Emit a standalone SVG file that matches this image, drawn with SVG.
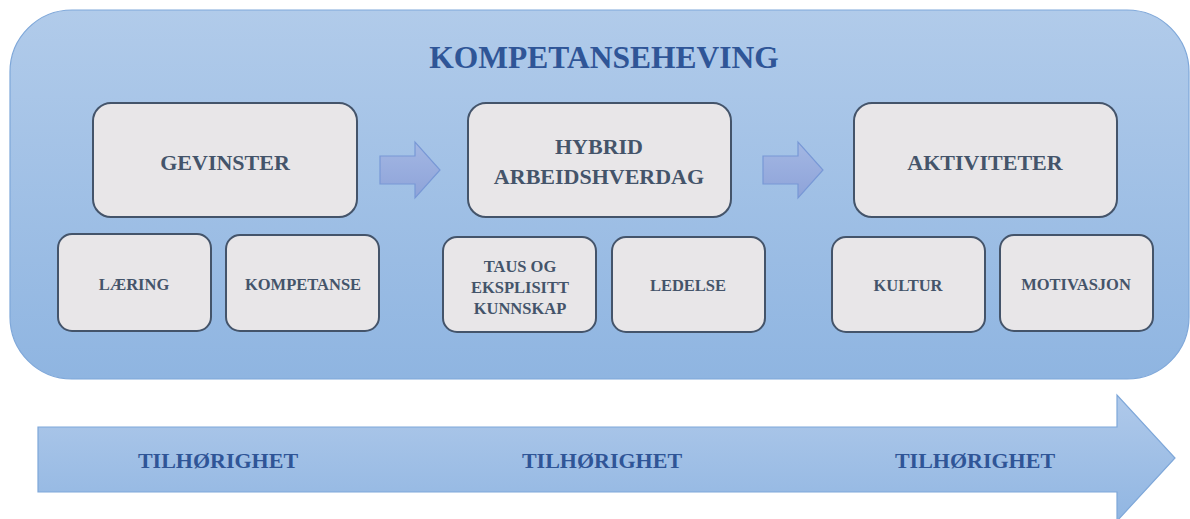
<svg xmlns="http://www.w3.org/2000/svg" width="1190" height="519" viewBox="0 0 1190 519">
  <defs>
    <linearGradient id="panelFill" x1="0" y1="0" x2="0" y2="1">
      <stop offset="0" stop-color="#b1cbea"/>
      <stop offset="1" stop-color="#8fb5e1"/>
    </linearGradient>
    <linearGradient id="bandFill" x1="0" y1="0" x2="0" y2="1">
      <stop offset="0" stop-color="#afc9ea"/>
      <stop offset="1" stop-color="#91b6e2"/>
    </linearGradient>
    <linearGradient id="stepFill" x1="0" y1="0" x2="0" y2="1">
      <stop offset="0" stop-color="#a3b7e3"/>
      <stop offset="1" stop-color="#8ea3d9"/>
    </linearGradient>
    <style>
      .panel { fill: url(#panelFill); stroke: #7ea7d9; stroke-width: 1.2; }
      .box { fill: #e8e6e8; stroke: #44546a; stroke-width: 2; }
      .step { fill: url(#stepFill); stroke: #7898d6; stroke-width: 1.2; }
      .band { fill: url(#bandFill); stroke: #7ea7d9; stroke-width: 1.2; }
      text { font-family: "Liberation Serif", "Times New Roman", serif; font-weight: bold; text-anchor: middle; }
      .title { font-size: 31.5px; fill: #2f5597; }
      .big { font-size: 22px; fill: #44546a; }
      .small { font-size: 16.5px; fill: #44546a; }
      .belong { font-size: 22px; fill: #2f5597; }
    </style>
  </defs>

  <!-- background panel -->
  <rect class="panel" x="10" y="10" width="1179" height="369" rx="62" ry="62"/>
  <text class="title" x="604" y="68">KOMPETANSEHEVING</text>

  <!-- main stages -->
  <g id="gevinster">
    <rect class="box" x="93" y="103" width="264" height="114" rx="18"/>
    <text class="big" x="225" y="170">GEVINSTER</text>
  </g>
  <g id="hybrid">
    <rect class="box" x="468" y="103" width="263" height="114" rx="18"/>
    <text class="big" x="599" y="154">HYBRID</text>
    <text class="big" x="599" y="184">ARBEIDSHVERDAG</text>
  </g>
  <g id="aktiviteter">
    <rect class="box" x="854" y="103" width="263" height="114" rx="18"/>
    <text class="big" x="985" y="170">AKTIVITETER</text>
  </g>

  <!-- sub topics -->
  <g id="laering">
    <rect class="box" x="58" y="234" width="153" height="97" rx="14"/>
    <text class="small" x="134" y="290">LÆRING</text>
  </g>
  <g id="kompetanse">
    <rect class="box" x="226" y="235" width="153" height="96" rx="14"/>
    <text class="small" x="303" y="290">KOMPETANSE</text>
  </g>
  <g id="taus">
    <rect class="box" x="443" y="237" width="153" height="95" rx="14"/>
    <text class="small" x="520" y="272">TAUS OG</text>
    <text class="small" x="520" y="293">EKSPLISITT</text>
    <text class="small" x="520" y="314">KUNNSKAP</text>
  </g>
  <g id="ledelse">
    <rect class="box" x="612" y="237" width="153" height="95" rx="14"/>
    <text class="small" x="688" y="291">LEDELSE</text>
  </g>
  <g id="kultur">
    <rect class="box" x="832" y="237" width="153" height="95" rx="14"/>
    <text class="small" x="908" y="291">KULTUR</text>
  </g>
  <g id="motivasjon">
    <rect class="box" x="1000" y="235" width="153" height="96" rx="14"/>
    <text class="small" x="1076" y="290">MOTIVASJON</text>
  </g>

  <!-- connectors -->
  <g id="connectors">
    <path class="step" d="M380,156 H415 V142 L440,170 L415,198 V184 H380 Z"/>
    <path class="step" d="M763,156 H798 V142 L823,170 L798,198 V184 H763 Z"/>
  </g>

  <!-- belonging band -->
  <g id="tilhorighet">
    <path class="band" d="M38,427 H1117 V395 L1175,458 L1117,521 V492 H38 Z"/>
    <text class="belong" x="218" y="468">TILHØRIGHET</text>
    <text class="belong" x="602" y="468">TILHØRIGHET</text>
    <text class="belong" x="975" y="468">TILHØRIGHET</text>
  </g>
</svg>
